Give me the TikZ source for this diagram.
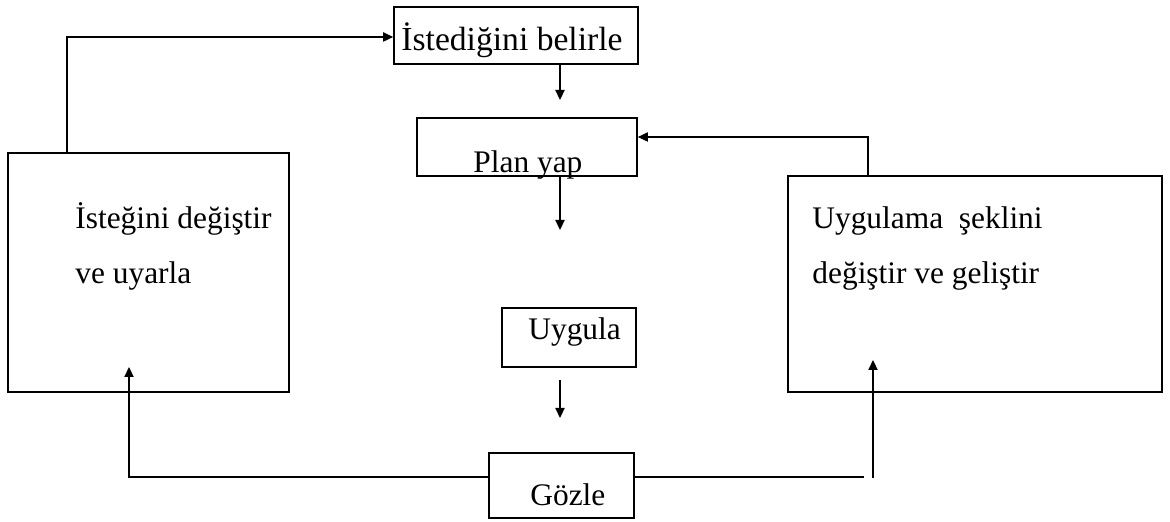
\documentclass[tikz,border=0pt]{standalone}
\usepackage{fontspec}
\setmainfont{Liberation Serif}
\usetikzlibrary{arrows.meta}

\begin{document}
\begin{tikzpicture}[
  x=0.5pt, y=-0.5pt,
  font=\fontsize{15.7}{18}\selectfont,
  flowbox/.style={draw, line width=0.85pt, inner sep=0pt},
  boxtext/.style={anchor=base west, inner sep=0pt},
  flowline/.style={line width=0.65pt},
  flow/.style={flowline, -{Triangle[length=5pt, width=4.6pt]}},
]
\useasboundingbox (0,0) rectangle (1170,522);

% Boxes (empty frames, text set separately)
\node[flowbox, minimum width=122pt, minimum height=28.5pt] at (516,35.5) (istek) {};
\node[flowbox, minimum width=110pt, minimum height=29pt] at (527,147) (plan) {};
\node[flowbox, minimum width=67pt, minimum height=29.5pt] at (569,337.5) (uygula) {};
\node[flowbox, minimum width=72.5pt, minimum height=32.5pt] at (561.5,485.5) (gozle) {};
\node[flowbox, minimum width=140.5pt, minimum height=119.5pt] at (148.5,272.5) (degis) {};
\node[flowbox, minimum width=187pt, minimum height=108pt] at (975,284) (gelis) {};

% Box texts
\node[boxtext, font=\fontsize{16.8}{19}\selectfont] at (401,51) (istekt) {İstediğini belirle};
\node[boxtext] at (473,173) (plant) {Plan yap};
\node[boxtext] at (528,340) (uygulat) {Uygula};
\node[boxtext] at (530,505) (gozlet) {Gözle};
\node[boxtext] at (75,229) (degisa) {İsteğini değiştir};
\node[boxtext] at (75,284) (degisb) {ve uyarla};
\node[boxtext] at (812,229) (gelisa) {Uygulama~~şeklini};
\node[boxtext] at (812,284) (gelisb) {değiştir ve geliştir};

% Free ends of the connectors
\coordinate (upl) at (67,37);
\coordinate (a1) at (560,100);
\coordinate (a2) at (560,230);
\coordinate (a3top) at (560,380);
\coordinate (a3) at (560,418);
\coordinate (gl) at (129,477);
\coordinate (gltip) at (129,367);
\coordinate (gr) at (864,477);
\coordinate (grb) at (873,478);
\coordinate (grt) at (873,360);
\coordinate (pr) at (868,137);

% Main column
\draw[flow] (istek.south -| a1) -- (a1);
\draw[flow] (plan.south -| a2) -- (a2);
\draw[flow] (a3top) -- (a3);

% Feedback loops
\draw[flow] (degis.north -| upl) |- (istek.west |- upl);
\draw[flow] (gozle.west |- gl) -| (gltip);
\draw[flowline] (gozle.east |- gr) -- (gr);
\draw[flow] (grb) -- (grt);
\draw[flow] (gelis.north -| pr) |- (plan.east |- pr);

\end{tikzpicture}
\end{document}
